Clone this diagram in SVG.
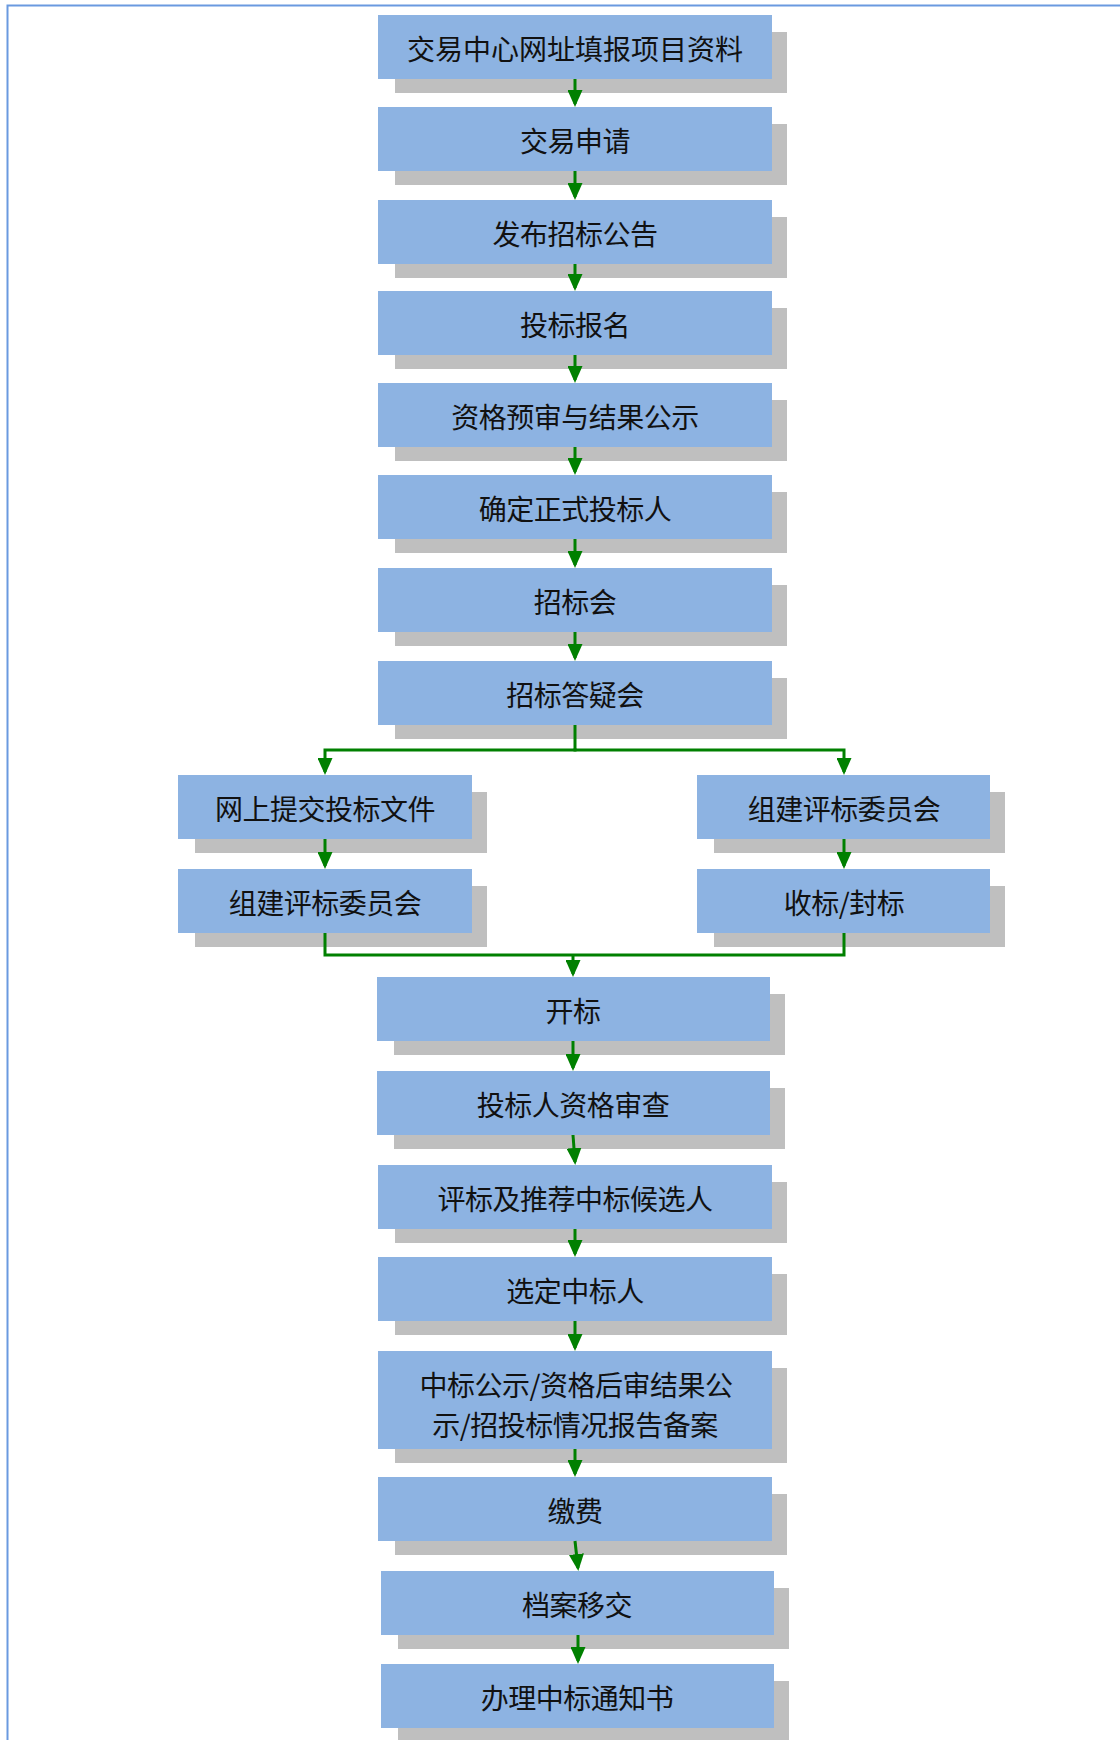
<svg xmlns="http://www.w3.org/2000/svg" width="1120" height="1740" viewBox="0 0 1120 1740">
<style>
.box{fill:#8DB3E2}
.sh{fill:#BFBFBF}
.t{font-family:"Noto Sans CJK SC","Noto Sans CJK JP",sans-serif;font-size:28px;fill:#111;text-anchor:middle;letter-spacing:-0.5px}
.c{fill:none;stroke:#008000;stroke-width:3}
</style>
<defs>
<marker id="ah" markerUnits="userSpaceOnUse" markerWidth="17" markerHeight="15" viewBox="0 0 17 15" refX="14" refY="7.5" orient="auto">
<path d="M0,0 L17,7.5 L0,15 Z" fill="#008000"/>
</marker>
</defs>
<rect width="1120" height="1740" fill="#fff"/>
<path d="M7.5,1740 V5.5 H1120" fill="none" stroke="#6A9AE0" stroke-width="2"/>

<g id="n1"><rect class="sh" x="395" y="32" width="392" height="61"/><rect class="box" x="378" y="15" width="394" height="64"/><text class="t" x="575" y="60" style="letter-spacing:0px">交易中心网址填报项目资料</text></g>
<g id="n2"><rect class="sh" x="395" y="124" width="392" height="61"/><rect class="box" x="378" y="107" width="394" height="64"/><text class="t" x="575" y="152">交易申请</text></g>
<g id="n3"><rect class="sh" x="395" y="217" width="392" height="61"/><rect class="box" x="378" y="200" width="394" height="64"/><text class="t" x="575" y="245">发布招标公告</text></g>
<g id="n4"><rect class="sh" x="395" y="308" width="392" height="61"/><rect class="box" x="378" y="291" width="394" height="64"/><text class="t" x="575" y="336">投标报名</text></g>
<g id="n5"><rect class="sh" x="395" y="400" width="392" height="61"/><rect class="box" x="378" y="383" width="394" height="64"/><text class="t" x="575" y="428">资格预审与结果公示</text></g>
<g id="n6"><rect class="sh" x="395" y="492" width="392" height="61"/><rect class="box" x="378" y="475" width="394" height="64"/><text class="t" x="575" y="520">确定正式投标人</text></g>
<g id="n7"><rect class="sh" x="395" y="585" width="392" height="61"/><rect class="box" x="378" y="568" width="394" height="64"/><text class="t" x="575" y="613">招标会</text></g>
<g id="n8"><rect class="sh" x="395" y="678" width="392" height="61"/><rect class="box" x="378" y="661" width="394" height="64"/><text class="t" x="575" y="706">招标答疑会</text></g>

<g id="n9"><rect class="sh" x="195" y="792" width="292" height="61"/><rect class="box" x="178" y="775" width="294" height="64"/><text class="t" x="325" y="820">网上提交投标文件</text></g>
<g id="n10"><rect class="sh" x="195" y="886" width="292" height="61"/><rect class="box" x="178" y="869" width="294" height="64"/><text class="t" x="325" y="914">组建评标委员会</text></g>
<g id="n11"><rect class="sh" x="714" y="792" width="291" height="61"/><rect class="box" x="697" y="775" width="293" height="64"/><text class="t" x="844" y="820">组建评标委员会</text></g>
<g id="n12"><rect class="sh" x="714" y="886" width="291" height="61"/><rect class="box" x="697" y="869" width="293" height="64"/><text class="t" x="844" y="914">收标/封标</text></g>

<g id="n13"><rect class="sh" x="394" y="994" width="391" height="61"/><rect class="box" x="377" y="977" width="393" height="64"/><text class="t" x="573" y="1022">开标</text></g>
<g id="n14"><rect class="sh" x="394" y="1088" width="391" height="61"/><rect class="box" x="377" y="1071" width="393" height="64"/><text class="t" x="573" y="1116">投标人资格审查</text></g>
<g id="n15"><rect class="sh" x="395" y="1182" width="392" height="61"/><rect class="box" x="378" y="1165" width="394" height="64"/><text class="t" x="575" y="1210">评标及推荐中标候选人</text></g>
<g id="n16"><rect class="sh" x="395" y="1274" width="392" height="61"/><rect class="box" x="378" y="1257" width="394" height="64"/><text class="t" x="575" y="1302">选定中标人</text></g>
<g id="n17"><rect class="sh" x="395" y="1368" width="392" height="95"/><rect class="box" x="378" y="1351" width="394" height="98"/><text class="t" x="576" y="1396">中标公示/资格后审结果公</text><text class="t" x="575" y="1436">示/招投标情况报告备案</text></g>
<g id="n18"><rect class="sh" x="395" y="1494" width="392" height="61"/><rect class="box" x="378" y="1477" width="394" height="64"/><text class="t" x="575" y="1522">缴费</text></g>
<g id="n19"><rect class="sh" x="398" y="1588" width="391" height="61"/><rect class="box" x="381" y="1571" width="393" height="64"/><text class="t" x="577" y="1616">档案移交</text></g>
<g id="n20"><rect class="sh" x="398" y="1681" width="391" height="61"/><rect class="box" x="381" y="1664" width="393" height="64"/><text class="t" x="577" y="1709">办理中标通知书</text></g>

<g id="connectors">
<path class="c" marker-end="url(#ah)" d="M575,79 V104"/>
<path class="c" marker-end="url(#ah)" d="M575,171 V197"/>
<path class="c" marker-end="url(#ah)" d="M575,264 V288"/>
<path class="c" marker-end="url(#ah)" d="M575,355 V380"/>
<path class="c" marker-end="url(#ah)" d="M575,447 V472"/>
<path class="c" marker-end="url(#ah)" d="M575,539 V565"/>
<path class="c" marker-end="url(#ah)" d="M575,632 V658"/>
<path class="c" d="M575,725 V750"/>
<path class="c" marker-end="url(#ah)" d="M576.5,750 H325 V772"/>
<path class="c" marker-end="url(#ah)" d="M573.5,750 H844 V772"/>
<path class="c" marker-end="url(#ah)" d="M325,839 V866"/>
<path class="c" marker-end="url(#ah)" d="M844,839 V866"/>
<path class="c" d="M325,933 V955 H844 V933"/>
<path class="c" marker-end="url(#ah)" d="M573,955 V974"/>
<path class="c" marker-end="url(#ah)" d="M573,1041 V1068"/>
<path class="c" marker-end="url(#ah)" d="M573,1135 L575,1162"/>
<path class="c" marker-end="url(#ah)" d="M575,1229 V1254"/>
<path class="c" marker-end="url(#ah)" d="M575,1321 V1348"/>
<path class="c" marker-end="url(#ah)" d="M575,1449 V1474"/>
<path class="c" marker-end="url(#ah)" d="M575,1541 L578,1568"/>
<path class="c" marker-end="url(#ah)" d="M578,1635 V1661"/>
</g>
</svg>
